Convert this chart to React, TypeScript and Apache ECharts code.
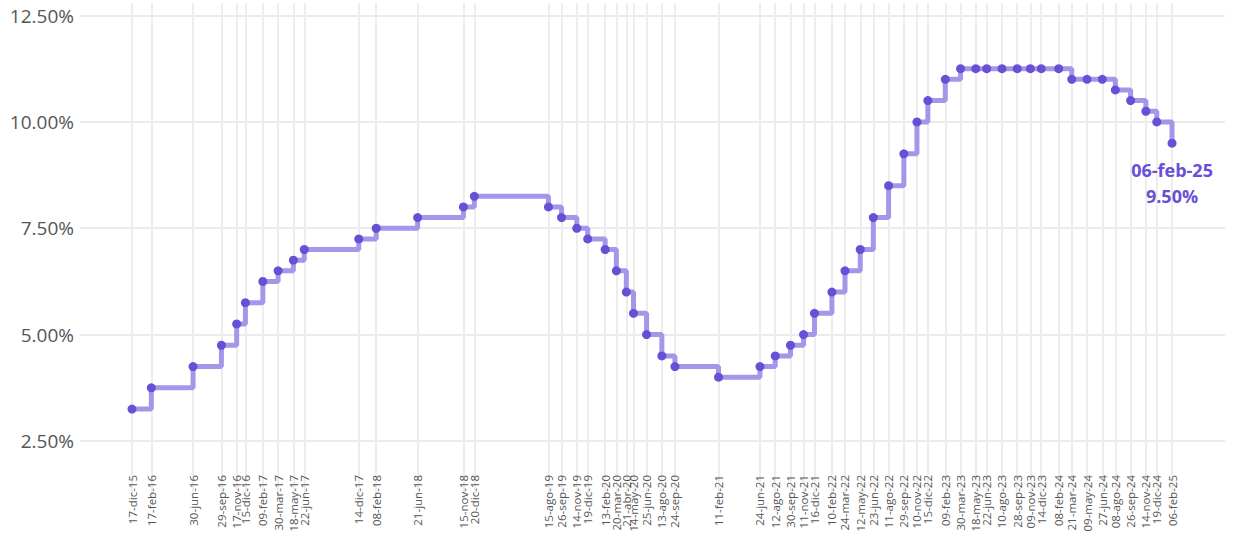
import React, { useEffect, useRef } from "react";
import * as echarts from "echarts";

const dates: string[] = [
  "2015-12-17", "2016-02-17", "2016-06-30", "2016-09-29", "2016-11-17", "2016-12-15",
  "2017-02-09", "2017-03-30", "2017-05-18", "2017-06-22", "2017-12-14", "2018-02-08",
  "2018-06-21", "2018-11-15", "2018-12-20", "2019-08-15", "2019-09-26", "2019-11-14",
  "2019-12-19", "2020-02-13", "2020-03-20", "2020-04-21", "2020-05-14", "2020-06-25",
  "2020-08-13", "2020-09-24", "2021-02-11", "2021-06-24", "2021-08-12", "2021-09-30",
  "2021-11-11", "2021-12-16", "2022-02-10", "2022-03-24", "2022-05-12", "2022-06-23",
  "2022-08-11", "2022-09-29", "2022-11-10", "2022-12-15", "2023-02-09", "2023-03-30",
  "2023-05-18", "2023-06-22", "2023-08-10", "2023-09-28", "2023-11-09", "2023-12-14",
  "2024-02-08", "2024-03-21", "2024-05-09", "2024-06-27", "2024-08-08", "2024-09-26",
  "2024-11-14", "2024-12-19", "2025-02-06",
];

const rates: number[] = [
  3.25, 3.75, 4.25, 4.75, 5.25, 5.75,
  6.25, 6.5, 6.75, 7.0, 7.25, 7.5,
  7.75, 8.0, 8.25, 8.0, 7.75, 7.5,
  7.25, 7.0, 6.5, 6.0, 5.5, 5.0,
  4.5, 4.25, 4.0, 4.25, 4.5, 4.75,
  5.0, 5.5, 6.0, 6.5, 7.0, 7.75,
  8.5, 9.25, 10.0, 10.5, 11.0, 11.25,
  11.25, 11.25, 11.25, 11.25, 11.25, 11.25,
  11.25, 11.0, 11.0, 11.0, 10.75, 10.5,
  10.25, 10.0, 9.5,
];

const yTicks: number[] = [2.5, 5, 7.5, 10, 12.5];
const months: string[] = ["ene", "feb", "mar", "abr", "may", "jun", "jul", "ago", "sep", "oct", "nov", "dic"];

const toTs = (s: string) => {
  const [y, m, d] = s.split("-").map(Number);
  return Date.UTC(y, m - 1, d);
};

const fmtDate = (v: number) => {
  const d = new Date(v);
  const dd = String(d.getUTCDate()).padStart(2, "0");
  const yy = String(d.getUTCFullYear()).slice(2);
  return `${dd}-${months[d.getUTCMonth()]}-${yy}`;
};

export default function App() {
  const ref = useRef<HTMLDivElement>(null);

  useEffect(() => {
    if (!ref.current) return;
    const chart = echarts.init(ref.current, null, { renderer: "svg" });
    const ts = dates.map(toTs);
    const day = 86400000;
    const data = ts.map((t, i) => {
      const item: any = { value: [t, rates[i]] };
      if (i === ts.length - 1) {
        item.label = {
          show: true,
          position: "bottom",
          distance: 9,
          formatter: () => `${fmtDate(t)}\n${rates[i].toFixed(2)}%`,
          color: "#6a4fd6",
          fontSize: 18,
          fontWeight: "bold",
          fontFamily: "Open Sans",
          lineHeight: 26,
          align: "center",
        };
      }
      return item;
    });

    chart.setOption({
      animation: false,
      grid: { left: 80, right: 8, top: 3, bottom: 68, containLabel: false },
      xAxis: {
        type: "value",
        min: ts[0] - 167 * day,
        max: ts[ts.length - 1] + 170 * day,
        axisLine: { show: false },
        axisTick: {
          show: true,
          length: 29,
          customValues: ts,
          lineStyle: { color: "#ededed", width: 2 },
        },
        splitLine: { show: true, lineStyle: { color: "#ededed", width: 2 } },
        axisLabel: {
          customValues: ts,
          rotate: 90,
          margin: 5,
          fontSize: 11.5,
          color: "#555",
          fontFamily: "Open Sans",
          formatter: (v: number) => fmtDate(v),
          hideOverlap: false,
        },
      },
      yAxis: {
        type: "value",
        min: 1.818,
        max: 12.794,
        axisLine: { show: false },
        axisTick: { show: false, customValues: yTicks },
        splitLine: { show: true, lineStyle: { color: "#ebebeb", width: 2 } },
        axisLabel: {
          customValues: yTicks,
          margin: 6,
          fontSize: 19,
          color: "#555",
          fontFamily: "Open Sans",
          formatter: (v: number) => `${v.toFixed(2)}%`,
        },
      },
      series: [
        {
          type: "line",
          step: "end",
          data,
          lineStyle: { color: "#a497ea", width: 5 },
          symbol: "circle",
          symbolSize: 9,
          itemStyle: { color: "#6a4fd6" },
          z: 3,
        },
      ],
    });
    return () => chart.dispose();
  }, []);

  return <div ref={ref} style={{ width: 1233, height: 538, position: "absolute", left: 0, top: 0 }} />;
}
